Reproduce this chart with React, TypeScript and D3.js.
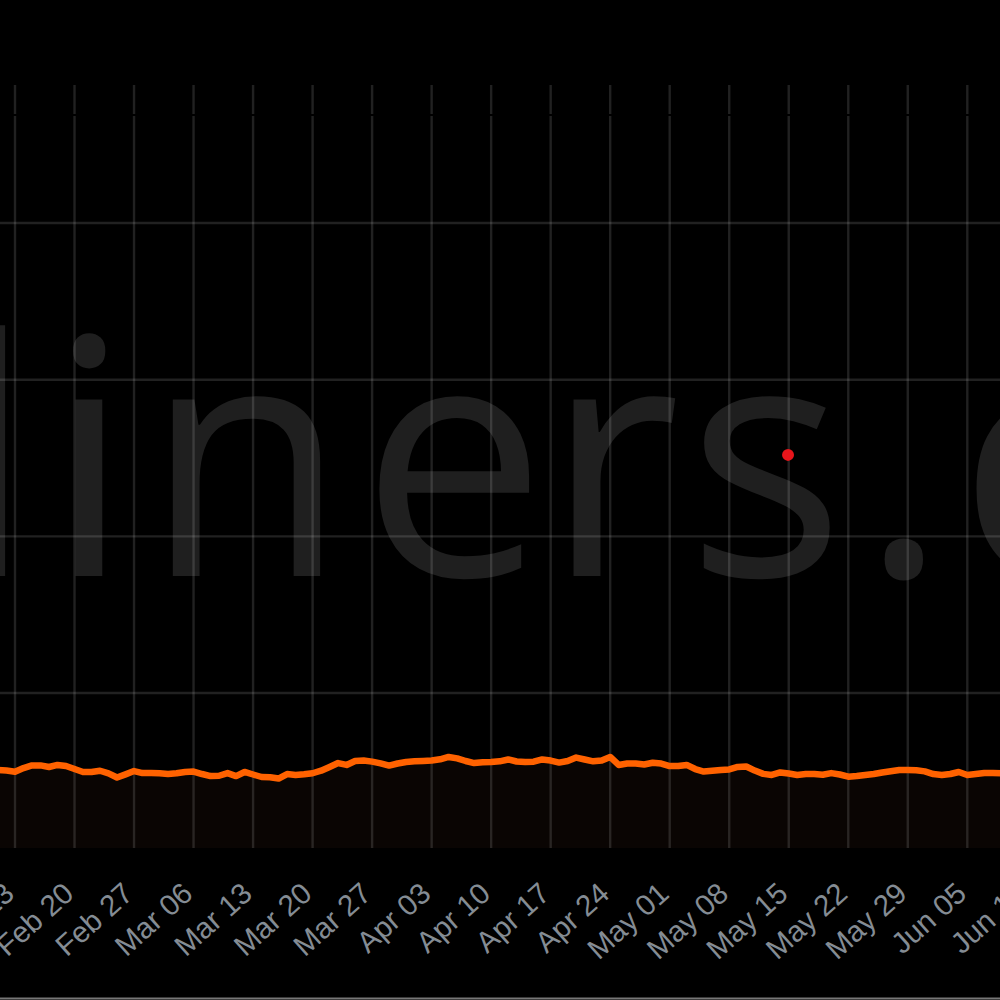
import React from 'react';
import * as d3 from 'd3';

// ---- data ----
const startDate = '2023-02-11';
const seriesValues = [
  50.9, 50.5, 49.8, 52.1, 53.8, 53.8, 52.8, 54.1, 53.4, 51.5,
  49.6, 49.6, 50.4, 48.7, 46.1, 48.1, 50.2, 48.9, 48.9, 48.8,
  48.3, 48.8, 49.6, 49.9, 48.3, 47.0, 47.2, 48.9, 47.0, 49.6,
  48.0, 46.4, 46.2, 45.4, 48.3, 47.7, 48.1, 48.8, 50.4, 52.8,
  55.3, 54.1, 56.6, 56.9, 56.2, 55.1, 53.7, 55.0, 56.0, 56.4,
  56.6, 56.9, 57.7, 59.2, 58.3, 56.6, 55.3, 55.8, 56.0, 56.4,
  57.6, 56.3, 56.0, 56.2, 57.6, 56.9, 55.6, 56.6, 58.8, 57.6,
  56.4, 56.9, 59.2, 54.1, 55.0, 55.0, 54.4, 55.5, 55.0, 53.4,
  53.4, 54.1, 51.5, 49.9, 50.4, 50.9, 51.2, 52.8, 53.1, 50.5,
  48.4, 47.7, 49.3, 48.6, 47.7, 48.3, 48.3, 47.8, 48.9, 48.0,
  46.6, 47.0, 47.7, 48.3, 49.3, 50.1, 50.9, 50.9, 50.7, 50.0,
  48.3, 47.7, 48.3, 49.6, 47.7, 48.3, 49.0, 48.9, 48.8,
];
const tickDates = [
  '2023-02-13', '2023-02-20', '2023-02-27', '2023-03-06', '2023-03-13',
  '2023-03-20', '2023-03-27', '2023-04-03', '2023-04-10', '2023-04-17',
  '2023-04-24', '2023-05-01', '2023-05-08', '2023-05-15', '2023-05-22',
  '2023-05-29', '2023-06-05', '2023-06-12',
];
const tickLabels = [
  'Feb 13', 'Feb 20', 'Feb 27', 'Mar 06', 'Mar 13', 'Mar 20', 'Mar 27',
  'Apr 03', 'Apr 10', 'Apr 17', 'Apr 24', 'May 01', 'May 08', 'May 15',
  'May 22', 'May 29', 'Jun 05', 'Jun 12',
];
const yTicks = [0, 100, 200, 300, 400];
const markerDates = ['2023-05-14T22:00:00'];
const markerValues = [252];
const watermarkText = 'liners.c';

const parseDay = (s: string) => {
  const [y, m, d] = s.slice(0, 10).split('-').map(Number);
  const dt = new Date(y, m - 1, d);
  if (s.length > 10) {
    const [hh, mm] = s.slice(11).split(':').map(Number);
    dt.setHours(hh, mm);
  }
  return dt;
};

export default function App() {
  const W = 1000;
  const H = 1000;
  const plotTop = 85;
  const plotBottom = 848;

  const x = d3
    .scaleTime()
    .domain([parseDay('2023-02-13'), parseDay('2023-06-05')])
    .range([15, 967.3]);
  const y = d3.scaleLinear().domain([0, 400]).range([849.7, 223]);

  const start = parseDay(startDate);
  const points = seriesValues.map((v, i) => ({ date: d3.timeDay.offset(start, i), v }));

  const line = d3
    .line<{ date: Date; v: number }>()
    .x((d) => x(d.date))
    .y((d) => y(d.v));
  const area = d3
    .area<{ date: Date; v: number }>()
    .x((d) => x(d.date))
    .y0(plotBottom)
    .y1((d) => y(d.v));

  const gridColor = 'rgba(255,255,255,0.13)';

  return (
    <svg
      width={W}
      height={H}
      style={{ position: 'absolute', left: 0, top: 0, background: '#000' }}
    >
      <defs>
        <clipPath id="plotClip">
          <rect x={0} y={plotTop} width={W} height={plotBottom - plotTop} />
        </clipPath>
        <filter id="soft" x="-5%" y="-50%" width="110%" height="200%">
          <feGaussianBlur stdDeviation="0.7" />
        </filter>
      </defs>
      <rect x={0} y={0} width={W} height={H} fill="#000" />
      {/* watermark */}
      <text
        x={-50}
        y={576}
        dx="0 0 0 0 -15 -7 2 -3"
        fontFamily="'Open Sans', sans-serif"
        fontSize={330}
        letterSpacing={14}
        fill="#1f1f1f"
      >
        {watermarkText}
      </text>
      {/* area fill */}
      <g clipPath="url(#plotClip)">
        <path d={area(points) || ''} fill="#0a0503" />
      </g>
      {/* grid */}
      {tickDates.map((t) => (
        <line
          key={t}
          x1={x(parseDay(t))}
          x2={x(parseDay(t))}
          y1={plotTop}
          y2={plotBottom}
          stroke={gridColor}
          strokeWidth={2.4}
        />
      ))}
      {yTicks
        .filter((v) => v > 0)
        .map((v) => (
          <line key={v} x1={0} x2={W} y1={y(v)} y2={y(v)} stroke={gridColor} strokeWidth={2.4} />
        ))}
      <line x1={0} x2={W} y1={115} y2={115} stroke="#000" strokeWidth={2} />
      {/* series line */}
      <g clipPath="url(#plotClip)">
        <path
          d={line(points) || ''}
          fill="none"
          stroke="#ff6200"
          strokeWidth={6.5}
          strokeLinejoin="round"
          strokeLinecap="round"
          filter="url(#soft)"
        />
      </g>
      {/* marker */}
      {markerDates.map((m, i) => (
        <circle key={m} cx={x(parseDay(m))} cy={y(markerValues[i])} r={6} fill="#e8151b" />
      ))}
      {/* x axis labels */}
      {tickDates.map((t, i) => (
        <text
          key={t}
          transform={`translate(${x(parseDay(t)) + 1},${896}) rotate(-42)`}
          textAnchor="end"
          fontFamily="'Liberation Sans', Arial, sans-serif"
          fontSize={29.5}
          fill="#848c94"
        >
          {tickLabels[i]}
        </text>
      ))}
      <line x1={0} x2={W} y1={998.5} y2={998.5} stroke="#777" strokeWidth={2} />
    </svg>
  );
}
